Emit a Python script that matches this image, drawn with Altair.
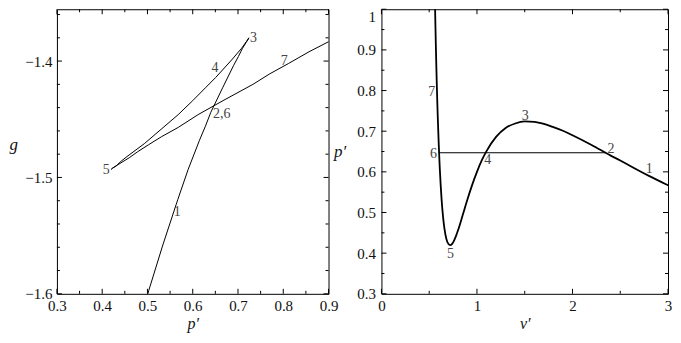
import altair as alt
import pandas as pd

# ---- data (van der Waals isotherm, T' ~ 0.9) ----
v_vals = [0.56, 0.565, 0.57, 0.575, 0.58, 0.585, 0.59, 0.60, 0.61, 0.62, 0.63, 0.64, 0.65, 0.66,
          0.68, 0.70, 0.72, 0.74, 0.76, 0.78, 0.80, 0.85, 0.90, 0.95, 1.0, 1.05, 1.1,
          1.2, 1.3, 1.4, 1.5, 1.6, 1.7, 1.8, 1.9, 2.0, 2.2, 2.4, 2.5, 2.6, 2.8, 3.0,
          3.3, 3.6, 3.8]
p_vals = [1.022, 0.962, 0.907, 0.857, 0.812, 0.770, 0.733, 0.667, 0.612, 0.568, 0.531, 0.502, 0.478, 0.460,
          0.435, 0.423, 0.420, 0.423, 0.431, 0.442, 0.455, 0.493, 0.532, 0.568, 0.600, 0.628, 0.651,
          0.686, 0.708, 0.719, 0.724, 0.723, 0.718, 0.710, 0.701, 0.690, 0.666, 0.640, 0.628, 0.615, 0.590, 0.567,
          0.534, 0.503, 0.485]
g_vals = [-1.357, -1.370, -1.382, -1.392, -1.402, -1.411, -1.420, -1.434, -1.446, -1.457, -1.465, -1.472, -1.478, -1.483,
          -1.489, -1.492, -1.493, -1.492, -1.490, -1.486, -1.482, -1.471, -1.458, -1.446, -1.434, -1.423, -1.414,
          -1.399, -1.389, -1.383, -1.380, -1.381, -1.384, -1.389, -1.396, -1.404, -1.423, -1.444, -1.456, -1.468, -1.493, -1.519,
          -1.558, -1.597, -1.623]

# Maxwell (equal-area) line
maxwell_v = [0.603, 2.35]
maxwell_p = [0.647, 0.647]

# point labels
left_lab_text = ["1", "2,6", "3", "4", "5", "7"]
left_lab_p = [0.566, 0.664, 0.734, 0.649, 0.409, 0.802]
left_lab_g = [-1.5294, -1.4454, -1.380, -1.406, -1.494, -1.400]

right_lab_text = ["1", "2", "3", "4", "5", "6", "7"]
right_lab_v = [2.804, 2.402, 1.505, 1.113, 0.722, 0.546, 0.526]
right_lab_p = [0.608, 0.656, 0.738, 0.630, 0.399, 0.644, 0.796]

# axis ticks
left_x_major = [0.3, 0.4, 0.5, 0.6, 0.7, 0.8, 0.9]
left_x_minor = [0.35, 0.45, 0.55, 0.65, 0.75, 0.85]
left_y_major = [-1.6, -1.5, -1.4]
left_y_minor = [-1.58, -1.56, -1.54, -1.52, -1.48, -1.46, -1.44, -1.42, -1.38, -1.36]
right_x_major = [0, 1, 2, 3]
right_x_minor = [0.5, 1.5, 2.5]
right_y_major = [0.3, 0.4, 0.5, 0.6, 0.7, 0.8, 0.9, 1.0]
right_y_minor = [0.35, 0.45, 0.55, 0.65, 0.75, 0.85, 0.95]

FONT = "Liberation Serif"
W1, W2, H = 272, 287, 285
MAJ, MIN = 5, 3

curve = pd.DataFrame({"v": v_vals, "p": p_vals, "g": g_vals, "i": list(range(len(v_vals)))})
maxwell = pd.DataFrame({"v": maxwell_v, "p": maxwell_p})
left_labels = pd.DataFrame({"p": left_lab_p, "g": left_lab_g, "t": left_lab_text})
right_labels = pd.DataFrame({"v": right_lab_v, "p": right_lab_p, "t": right_lab_text})


def tick_layers(xmaj, xmin, ymaj, ymin, xf, yf, xs, ys, W):
    layers = []
    for vals, L in ((xmaj, MAJ), (xmin, MIN)):
        base = alt.Chart(pd.DataFrame({xf: vals}))
        enc_x = alt.X(f"{xf}:Q", scale=xs)
        layers.append(base.mark_rule(color="black", strokeWidth=1).encode(
            x=enc_x, y=alt.value(H - L), y2=alt.value(H)))
        layers.append(base.mark_rule(color="black", strokeWidth=1).encode(
            x=enc_x, y=alt.value(0), y2=alt.value(L)))
    for vals, L in ((ymaj, MAJ), (ymin, MIN)):
        base = alt.Chart(pd.DataFrame({yf: vals}))
        enc_y = alt.Y(f"{yf}:Q", scale=ys)
        layers.append(base.mark_rule(color="black", strokeWidth=1).encode(
            y=enc_y, x=alt.value(0), x2=alt.value(L)))
        layers.append(base.mark_rule(color="black", strokeWidth=1).encode(
            y=enc_y, x=alt.value(W - L), x2=alt.value(W)))
    return layers


def x_axis(values, title, W):
    return alt.Axis(values=values, format="~g", ticks=False, domain=False, grid=False,
                    labelPadding=5, labelFontSize=15, labelFont=FONT, labelColor="#111",
                    labelFlush=False, labelOverlap=False,
                    title=title, titleFont=FONT, titleFontSize=16, titleFontStyle="italic",
                    titleFontWeight="normal", titleX=W / 2, titleY=35, titleAlign="center",
                    titleBaseline="alphabetic", titleColor="#111")


def y_axis(values, title, ty, pad, top_value):
    return alt.Axis(values=values, format="~g", ticks=False, domain=False, grid=False,
                    labelPadding=pad, labelFontSize=15, labelFont=FONT, labelColor="#111",
                    labelFlush=False, labelOverlap=False,
                    labelBaseline=alt.condition(f"datum.value >= {top_value}",
                                                alt.value("top"), alt.value("middle")),
                    title=title, titleFont=FONT, titleFontSize=17, titleFontStyle="italic",
                    titleFontWeight="normal", titleAngle=0, titleX=-48, titleY=ty,
                    titleAlign="left", titleBaseline="alphabetic", titleColor="#111")


# ---------------- left panel: g vs p' ----------------
xs1 = alt.Scale(domain=[0.3, 0.9], nice=False, zero=False)
ys1 = alt.Scale(domain=[-1.6, -1.35546], nice=False, zero=False)

left_line = alt.Chart(curve).mark_line(color="black", strokeWidth=1, clip=True).encode(
    x=alt.X("p:Q", scale=xs1, axis=x_axis(left_x_major, "p′", W1)),
    y=alt.Y("g:Q", scale=ys1, axis=y_axis(left_y_major, "g", 140, 5, 0)),
    order=alt.Order("i:Q"),
)
left_text = alt.Chart(left_labels).mark_text(font=FONT, fontSize=14, color="#444",
                                             align="center", baseline="middle").encode(
    x=alt.X("p:Q", scale=xs1),
    y=alt.Y("g:Q", scale=ys1),
    text="t:N",
)
left = alt.layer(left_line, left_text,
                 *tick_layers(left_x_major, left_x_minor, left_y_major, left_y_minor,
                              "p", "g", xs1, ys1, W1)
                 ).properties(width=W1, height=H)

# ---------------- right panel: p' vs v' ----------------
xs2 = alt.Scale(domain=[0, 3], nice=False, zero=False)
ys2 = alt.Scale(domain=[0.3, 1.0], nice=False, zero=False)

right_line = alt.Chart(curve).mark_line(color="black", strokeWidth=1.8, clip=True,
                                        interpolate="monotone").encode(
    x=alt.X("v:Q", scale=xs2, axis=x_axis(right_x_major, "v′", W2)),
    y=alt.Y("p:Q", scale=ys2, axis=y_axis(right_y_major, "p′", 147, 6, 0.99)),
    order=alt.Order("i:Q"),
)
right_max = alt.Chart(maxwell).mark_line(color="black", strokeWidth=1.2).encode(
    x=alt.X("v:Q", scale=xs2),
    y=alt.Y("p:Q", scale=ys2),
)
right_text = alt.Chart(right_labels).mark_text(font=FONT, fontSize=14, color="#444",
                                               align="center", baseline="middle").encode(
    x=alt.X("v:Q", scale=xs2),
    y=alt.Y("p:Q", scale=ys2),
    text="t:N",
)
right = alt.layer(right_line, right_max, right_text,
                  *tick_layers(right_x_major, right_x_minor, right_y_major, right_y_minor,
                               "v", "p", xs2, ys2, W2)
                  ).properties(width=W2, height=H)

chart = alt.hconcat(left, right, spacing=53, bounds="flush").properties(
    padding=0
).configure_view(stroke="black", strokeWidth=1)

chart.save("out.html", embed_options={"renderer": "svg", "actions": False})
